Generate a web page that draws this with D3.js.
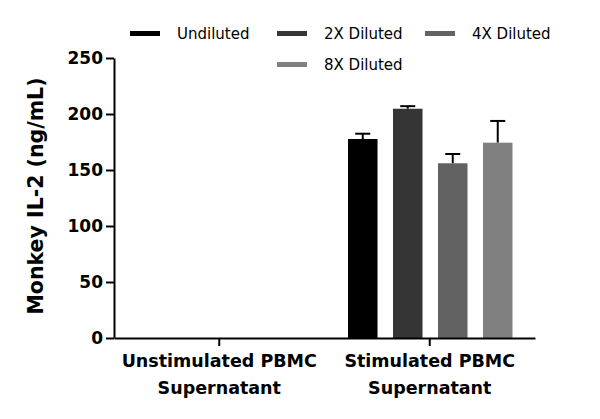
<!DOCTYPE html>
<html>
<head>
<meta charset="utf-8">
<script src="https://cdn.jsdelivr.net/npm/d3@7"></script>
<style>
  body { margin: 0; background: #fff; }
  text { font-family: "DejaVu Sans", sans-serif; }
</style>
</head>
<body>
<div id="chart"></div>
<script>
// data
const groups = ['Unstimulated PBMC|Supernatant', 'Stimulated PBMC|Supernatant'];
const series = ['Undiluted', '2X Diluted', '4X Diluted', '8X Diluted'];
const colors = ['#000000', '#353535', '#626262', '#808080'];
const unstimValues = [0, 0, 0, 0];
const stimValues = [177.7, 204.7, 156, 174.4];
const unstimErr = [0, 0, 0, 0];
const stimErr = [4.7, 2.3, 8.3, 19.4];
const yTicks = [0, 50, 100, 150, 200, 250];

const width = 600, height = 419;
const margin = { top: 58, right: 65, bottom: 81, left: 114 };
const w = width - margin.left - margin.right;
const h = height - margin.top - margin.bottom;
const clusterW = 164.5;

const svg = d3.select('#chart').append('svg')
  .attr('width', width)
  .attr('height', height);

const g = svg.append('g')
  .attr('transform', 'translate(' + margin.left + ',' + margin.top + ')');

const x0 = d3.scaleBand().domain(groups).range([0, w]);
const x1 = d3.scaleBand().domain(series).range([0, clusterW]).paddingInner(0.344).paddingOuter(0);
const y = d3.scaleLinear().domain([0, 250]).range([h, 0]);
const color = d3.scaleOrdinal().domain(series).range(colors);

const data = groups.map((grp, gi) => ({
  group: grp,
  bars: series.map((s, i) => ({
    key: s,
    value: gi === 0 ? unstimValues[i] : stimValues[i],
    err: gi === 0 ? unstimErr[i] : stimErr[i]
  }))
}));

const grp = g.selectAll('.grp')
  .data(data)
  .enter().append('g')
  .attr('class', 'grp')
  .attr('transform', d => 'translate(' + (x0(d.group) + x0.bandwidth() / 2 - clusterW / 2 + 0.5) + ',0)');

// error bars (upper only)
grp.selectAll('.err')
  .data(d => d.bars.filter(b => b.value > 0))
  .enter().append('g')
  .attr('class', 'err')
  .each(function (d) {
    const cx = x1(d.key) + x1.bandwidth() / 2;
    const e = d3.select(this);
    e.append('line')
      .attr('x1', cx).attr('x2', cx)
      .attr('y1', y(d.value)).attr('y2', y(d.value + d.err))
      .attr('stroke', '#000').attr('stroke-width', 2);
    e.append('line')
      .attr('x1', cx - 7.5).attr('x2', cx + 7.5)
      .attr('y1', y(d.value + d.err)).attr('y2', y(d.value + d.err))
      .attr('stroke', '#000').attr('stroke-width', 2);
  });

grp.selectAll('rect')
  .data(d => d.bars)
  .enter().append('rect')
  .attr('x', d => x1(d.key))
  .attr('width', x1.bandwidth())
  .attr('y', d => y(d.value))
  .attr('height', d => h - y(d.value))
  .attr('fill', d => color(d.key));

// y axis
const yAxis = g.append('g')
  .call(d3.axisLeft(y).tickValues(yTicks).tickSize(8).tickSizeOuter(0).tickPadding(3));
yAxis.attr('font-family', null);
yAxis.select('.domain').attr('stroke-width', 2);
yAxis.selectAll('.tick line').attr('stroke-width', 2);
yAxis.selectAll('.tick text')
  .attr('font-size', 17).attr('font-weight', 'bold').attr('fill', '#000');

// x axis
const xAxis = g.append('g')
  .attr('transform', 'translate(0,' + h + ')')
  .call(d3.axisBottom(x0).tickSize(8).tickSizeOuter(0).tickFormat(''));
xAxis.attr('font-family', null);
xAxis.select('.domain').attr('stroke-width', 2);
xAxis.selectAll('.tick line').attr('stroke-width', 2);

const xl = xAxis.selectAll('.tick').append('text')
  .attr('fill', '#000')
  .attr('font-size', 17.5)
  .attr('font-weight', 'bold')
  .attr('text-anchor', 'middle');
xl.append('tspan').attr('x', 0).attr('y', 29).text(d => d.split('|')[0]);
xl.append('tspan').attr('x', 0).attr('y', 56).text(d => d.split('|')[1]);

// y title
svg.append('text')
  .attr('transform', 'translate(43,' + (margin.top + h / 2 - 2) + ') rotate(-90)')
  .attr('text-anchor', 'middle')
  .attr('font-size', 20.5)
  .attr('font-weight', 'bold')
  .text('Monkey IL-2 (ng/mL)');

// legend
const legendPos = [[130, 31], [277, 31], [425, 31], [277, 62]];
const leg = svg.selectAll('.leg')
  .data(series)
  .enter().append('g')
  .attr('class', 'leg')
  .attr('transform', (d, i) => 'translate(' + legendPos[i][0] + ',' + legendPos[i][1] + ')');
leg.append('rect')
  .attr('width', 30).attr('height', 5)
  .attr('fill', d => color(d));
leg.append('text')
  .attr('x', 47).attr('y', 7.5)
  .attr('font-size', 15)
  .attr('fill', '#000')
  .text(d => d);
</script>
</body>
</html>
